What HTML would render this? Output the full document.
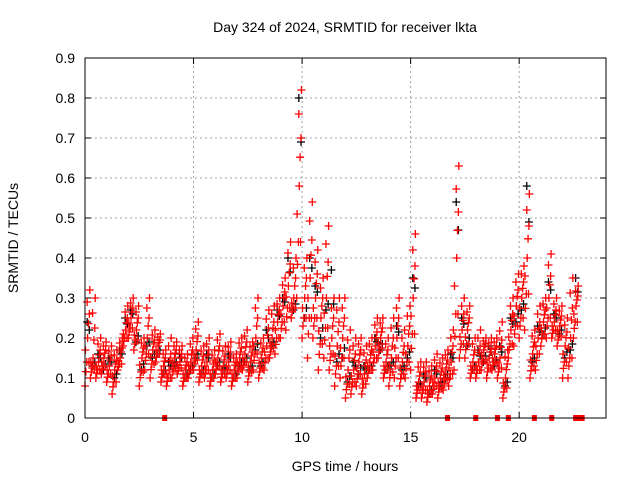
<!DOCTYPE html>
<html><head><meta charset="utf-8"><style>
body{margin:0;background:#fff}
svg text{font-family:"Liberation Sans",sans-serif;font-size:14px;fill:#000}
</style></head><body>
<svg id="chart" width="640" height="480" viewBox="0 0 640 480" xmlns="http://www.w3.org/2000/svg">
<rect width="640" height="480" fill="#fff"/>
<text x="345" y="32" text-anchor="middle">Day 324 of 2024, SRMTID for receiver lkta</text>
<text x="345" y="471" text-anchor="middle">GPS time / hours</text>
<text transform="translate(18,238) rotate(-90)" text-anchor="middle">SRMTID / TECUs</text>
<g id="grid"></g>
<g id="ticks"></g>
<g id="marks"></g>
<rect x="85" y="58" width="521" height="360" fill="none" stroke="#000" stroke-width="1"/>
</svg>
<script>
const xTicks=[0,5,10,15,20];
const yTicks=[0,0.1,0.2,0.3,0.4,0.5,0.6,0.7,0.8,0.9];
const yTickLabels=["0","0.1","0.2","0.3","0.4","0.5","0.6","0.7","0.8","0.9"];
const hours=[0,0.25,0.5,0.75,1,1.25,1.5,1.75,2,2.25,2.5,2.75,3,3.25,3.5,3.75,4,4.25,4.5,4.75,5,5.25,5.5,5.75,6,6.25,6.5,6.75,7,7.25,7.5,7.75,8,8.25,8.5,8.75,9,9.25,9.5,9.75,10,10.25,10.5,10.75,11,11.25,11.5,11.75,12,12.25,12.5,12.75,13,13.25,13.5,13.75,14,14.25,14.5,14.75,15,15.25,15.5,15.75,16,16.25,16.5,16.75,17,17.25,17.5,17.75,18,18.25,18.5,18.75,19,19.25,19.5,19.75,20,20.25,20.5,20.75,21,21.25,21.5,21.75,22,22.25,22.5];
const redLow=[.08,.1,.1,.11,.09,.06,.12,.18,.2,.17,.08,.12,.1,.14,.09,.08,.1,.11,.08,.1,.12,.09,.1,.08,.11,.09,.1,.08,.1,.12,.09,.12,.1,.12,.15,.16,.2,.22,.25,.3,.2,.15,.2,.12,.15,.12,.08,.1,.05,.06,.08,.06,.1,.12,.15,.1,.08,.1,.08,.1,.12,.05,.05,.04,.06,.05,.07,.08,.12,.15,.15,.1,.1,.12,.1,.12,.1,.05,.15,.18,.2,.22,.1,.12,.18,.2,.2,.18,.1,.1,.2];
const redMid=[.2,.15,.14,.15,.13,.12,.15,.22,.25,.22,.15,.2,.17,.18,.13,.12,.15,.14,.12,.14,.17,.13,.14,.12,.15,.13,.14,.12,.15,.16,.14,.2,.15,.18,.2,.24,.28,.33,.3,.58,.3,.35,.3,.25,.3,.2,.18,.2,.12,.12,.14,.11,.14,.18,.2,.14,.15,.2,.14,.18,.3,.09,.09,.08,.1,.1,.12,.14,.4,.22,.22,.14,.14,.17,.15,.16,.15,.1,.22,.28,.3,.4,.16,.2,.24,.3,.24,.23,.18,.2,.28];
const redHigh=[.32,.3,.2,.19,.18,.17,.2,.28,.3,.28,.2,.3,.22,.21,.17,.2,.19,.18,.16,.2,.24,.18,.2,.17,.21,.18,.19,.16,.2,.22,.19,.3,.2,.27,.28,.3,.35,.44,.4,.82,.4,.54,.42,.35,.48,.3,.3,.3,.22,.2,.2,.18,.2,.25,.25,.2,.25,.3,.22,.28,.46,.14,.14,.13,.16,.15,.17,.22,.63,.3,.28,.2,.22,.2,.2,.2,.24,.17,.3,.36,.38,.56,.22,.28,.3,.41,.3,.28,.25,.35,.33];
const blackVals=[.24,.13,.16,.12,.15,.1,.17,.25,.27,.19,.12,.18,.15,.16,.11,.14,.13,.16,.1,.12,.15,.11,.16,.1,.13,.12,.16,.1,.13,.14,.12,.17,.13,.22,.18,.27,.3,.4,.27,.8,.25,.4,.33,.2,.27,.37,.14,.15,.09,.14,.11,.13,.12,.2,.17,.12,.13,.23,.12,.15,.35,.08,.11,.06,.12,.08,.1,.16,.54,.25,.18,.12,.17,.14,.18,.13,.18,.08,.25,.24,.27,.58,.14,.23,.21,.34,.26,.21,.15,.17,.35];
const zeroMarks=[3.67,16.7,18.0,19.0,19.5,20.7,21.5,22.6,22.75,22.9];
const X0=85,X1=606,Y0=418,Y1=58;
const xs=h=>X0+h*(X1-X0)/24;
const ys=v=>Y0-v*(Y0-Y1)/0.9;
const NS="http://www.w3.org/2000/svg";
function mk(tag,parent,attrs){const e=document.createElementNS(NS,tag);for(const k in attrs)e.setAttribute(k,attrs[k]);parent.appendChild(e);return e;}
const grid=document.getElementById('grid'),ticks=document.getElementById('ticks'),marks=document.getElementById('marks');
yTicks.forEach((v,i)=>{
 if(i>0&&i<yTicks.length-1){const g=mk('line',grid,{x1:X0,x2:X1,y1:ys(v),y2:ys(v),stroke:'#a0a0a0','stroke-dasharray':'2,3'});
 
 }
 const t=mk('text',ticks,{x:X0-10,y:ys(v)+5,'text-anchor':'end'});t.textContent=yTickLabels[i];
 
 
 mk('line',ticks,{x1:X0,x2:X0+6,y1:ys(v),y2:ys(v),stroke:'#000'});
 mk('line',ticks,{x1:X1,x2:X1-6,y1:ys(v),y2:ys(v),stroke:'#000'});
});
xTicks.forEach(h=>{
 if(h>0){const g=mk('line',grid,{x1:xs(h),x2:xs(h),y1:Y0,y2:Y1,stroke:'#a0a0a0','stroke-dasharray':'2,3'});
 
 }
 const t=mk('text',ticks,{x:xs(h),y:Y0+24,'text-anchor':'middle'});t.textContent=String(h);
 
 
 mk('line',ticks,{x1:xs(h),x2:xs(h),y1:Y0,y2:Y0-6,stroke:'#000'});
 mk('line',ticks,{x1:xs(h),x2:xs(h),y1:Y1,y2:Y1+6,stroke:'#000'});
});
function cross(h,v,col,name){
 const x=xs(h),y=ys(v);
 const p=mk('path',marks,{d:`M${x-4},${y}H${x+4}M${x},${y-4}V${y+4}`,stroke:col,'stroke-width':1.3,fill:'none'});
 
 
}
hours.forEach((h,i)=>{
 cross(h+0.1,blackVals[i],'#000','black-point');
 cross(h+0.2,(blackVals[i]+redMid[i])/2,'#000','black-point');
});
hours.forEach((h,i)=>{
 const lo=redLow[i],md=redMid[i],hi=redHigh[i];
 cross(h,lo,'#f00','red-point');
 cross(h+0.04,lo+(md-lo)*0.3,'#f00','red-point');
 cross(h+0.08,(lo+md)/2,'#f00','red-point');
 cross(h+0.02,lo+(md-lo)*0.75,'#f00','red-point');
 cross(h+0.12,md,'#f00','red-point');
 cross(h+0.16,md+(hi-md)*0.3,'#f00','red-point');
 cross(h+0.2,(md+hi)/2,'#f00','red-point');
 cross(h+0.1,md+(hi-md)*0.75,'#f00','red-point');
 cross(h+0.22,hi,'#f00','red-point');
 cross(h+0.18,lo+(md-lo)*0.5,'#f00','red-point');
});
zeroMarks.forEach(h=>{
 const r=mk('rect',marks,{x:xs(h)-2.5,y:Y0-3,width:5,height:6,fill:'#f00'});
 
 
});
</script>
</body></html>
